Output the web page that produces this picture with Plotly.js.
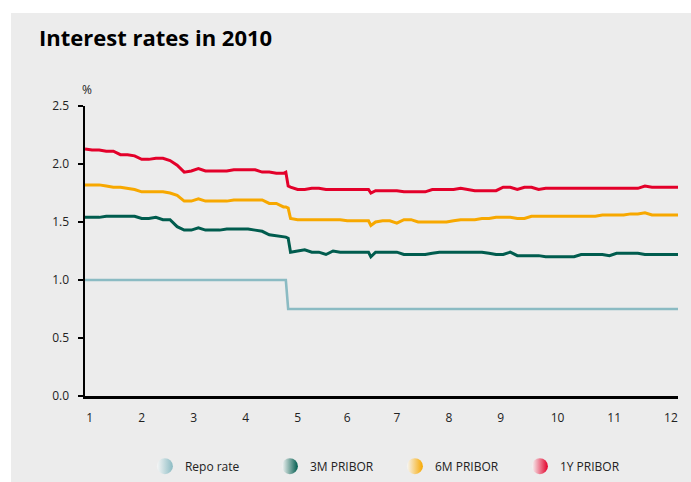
<!DOCTYPE html>
<html>
<head>
<meta charset="utf-8">
<script src="https://cdn.plot.ly/plotly-3.0.1.min.js"></script>
<style>html,body{margin:0;padding:0;background:#fff;}#chart{width:691px;height:482px;}</style>
</head>
<body>
<div id="chart"></div>
<script>
// trading-day index through 2010
var day = [0,3,6,9,12,15,18,21,24,27,30,33,36,39,42,45,48,51,54,57,60,63,66,69,72,75,78,81,84,85,86,87,
  90,93,96,99,102,105,108,111,114,117,120,121,123,126,129,132,135,138,141,144,147,150,153,156,159,162,165,168,
  171,174,177,180,183,186,189,192,195,198,201,204,207,210,213,216,219,222,225,228,231,234,237,240,243,246,249,251];

var repoRate = [1.00,1.00,1.00,1.00,1.00,1.00,1.00,1.00,1.00,1.00,1.00,1.00,1.00,1.00,1.00,1.00,1.00,1.00,1.00,1.00,1.00,1.00,1.00,1.00,1.00,1.00,1.00,1.00,1.00,1.00,0.75,0.75,
  0.75,0.75,0.75,0.75,0.75,0.75,0.75,0.75,0.75,0.75,0.75,0.75,0.75,0.75,0.75,0.75,0.75,0.75,0.75,0.75,0.75,0.75,0.75,0.75,0.75,0.75,0.75,0.75,
  0.75,0.75,0.75,0.75,0.75,0.75,0.75,0.75,0.75,0.75,0.75,0.75,0.75,0.75,0.75,0.75,0.75,0.75,0.75,0.75,0.75,0.75,0.75,0.75,0.75,0.75,0.75,0.75];

var pribor3M = [1.54,1.54,1.54,1.55,1.55,1.55,1.55,1.55,1.53,1.53,1.54,1.52,1.52,1.46,1.43,1.43,1.45,1.43,1.43,1.43,1.44,1.44,1.44,1.44,1.43,1.42,1.39,1.38,1.37,1.37,1.36,1.24,
  1.25,1.26,1.24,1.24,1.22,1.25,1.24,1.24,1.24,1.24,1.24,1.20,1.24,1.24,1.24,1.24,1.22,1.22,1.22,1.22,1.23,1.24,1.24,1.24,1.24,1.24,1.24,1.24,
  1.23,1.22,1.22,1.24,1.21,1.21,1.21,1.21,1.20,1.20,1.20,1.20,1.20,1.22,1.22,1.22,1.22,1.21,1.23,1.23,1.23,1.23,1.22,1.22,1.22,1.22,1.22,1.22];

var pribor6M = [1.82,1.82,1.82,1.81,1.80,1.80,1.79,1.78,1.76,1.76,1.76,1.76,1.75,1.73,1.68,1.68,1.70,1.68,1.68,1.68,1.68,1.69,1.69,1.69,1.69,1.69,1.66,1.66,1.63,1.63,1.62,1.53,
  1.52,1.52,1.52,1.52,1.52,1.52,1.52,1.51,1.51,1.51,1.51,1.47,1.50,1.51,1.51,1.49,1.52,1.52,1.50,1.50,1.50,1.50,1.50,1.51,1.52,1.52,1.52,1.53,
  1.53,1.54,1.54,1.54,1.53,1.53,1.55,1.55,1.55,1.55,1.55,1.55,1.55,1.55,1.55,1.55,1.56,1.56,1.56,1.56,1.57,1.57,1.58,1.56,1.56,1.56,1.56,1.56];

var pribor1Y = [2.13,2.12,2.12,2.11,2.11,2.08,2.08,2.07,2.04,2.04,2.05,2.05,2.03,1.99,1.93,1.94,1.96,1.94,1.94,1.94,1.94,1.95,1.95,1.95,1.95,1.93,1.93,1.92,1.92,1.93,1.81,1.80,
  1.78,1.78,1.79,1.79,1.78,1.78,1.78,1.78,1.78,1.78,1.78,1.75,1.77,1.77,1.77,1.77,1.76,1.76,1.76,1.76,1.78,1.78,1.78,1.78,1.79,1.78,1.77,1.77,
  1.77,1.77,1.80,1.80,1.78,1.80,1.80,1.78,1.79,1.79,1.79,1.79,1.79,1.79,1.79,1.79,1.79,1.79,1.79,1.79,1.79,1.79,1.81,1.80,1.80,1.80,1.80,1.80];

var monthTickDays = [2,24,46,68,90,111,132,154,176,200,224,248];
var monthLabels = ['1','2','3','4','5','6','7','8','9','10','11','12'];

var seriesNames = ['Repo rate','3M PRIBOR','6M PRIBOR','1Y PRIBOR'];
var seriesColors = ['#8bbbc3','#005c4e','#f7a800','#e3002a'];
var seriesValues = [repoRate, pribor3M, pribor6M, pribor1Y];

var traces = [];
for (var i = 0; i < seriesValues.length; i++) {
  traces.push({
    x: day, y: seriesValues[i], type: 'scatter', mode: 'lines',
    line: {color: seriesColors[i], width: i === 0 ? 2.6 : 3, shape: 'linear'},
    showlegend: false, hoverinfo: 'skip'
  });
}
for (var j = 0; j < seriesNames.length; j++) {
  traces.push({
    x: [null], y: [null], type: 'scatter', mode: 'markers', name: seriesNames[j],
    marker: {size: 18, color: '#f6f6f6', gradient: {type: 'horizontal', color: seriesColors[j]}, line: {width: 0}},
    showlegend: true
  });
}

var layout = {
  width: 691, height: 482,
  margin: {l: 85, r: 13, t: 106, b: 86, autoexpand: false},
  paper_bgcolor: '#ececec',
  plot_bgcolor: '#ececec',
  font: {family: 'Open Sans, Noto Sans, sans-serif', size: 12, color: '#222'},
  title: {text: '<b>Interest rates in 2010</b>', x: 0, xref: 'container', xanchor: 'left', y: 1, yref: 'container', yanchor: 'top',
          pad: {t: 31, l: 39}, font: {family: 'Open Sans, sans-serif', size: 22, color: '#000'}},
  xaxis: {
    range: [0, 251], tickmode: 'array', tickvals: monthTickDays, ticktext: monthLabels,
    showgrid: false, zeroline: false, showline: true, linecolor: '#000', linewidth: 2.5,
    ticks: '', ticklabelstandoff: 9, tickfont: {size: 12, color: '#222'}, fixedrange: true
  },
  yaxis: {
    range: [0, 2.5], tickvals: [0, 0.5, 1.0, 1.5, 2.0, 2.5], tickformat: '.1f',
    showgrid: false, zeroline: false, showline: true, linecolor: '#000', linewidth: 2.5,
    ticks: 'outside', ticklen: 5, tickwidth: 2, tickcolor: '#000', ticklabelstandoff: 6,
    tickfont: {size: 12, color: '#222'}, fixedrange: true
  },
  legend: {orientation: 'h', x: 0.101, xanchor: 'left', y: -0.192, yanchor: 'top', entrywidth: 80, entrywidthmode: 'pixels',
           font: {size: 12, color: '#222'}, bgcolor: 'rgba(0,0,0,0)', itemsizing: 'trace'},
  annotations: [{text: '%', xref: 'paper', yref: 'paper', x: 0, y: 1, xanchor: 'left', yanchor: 'bottom', yshift: 6, xshift: -5,
                 showarrow: false, font: {size: 12, color: '#222'}}],
  shapes: [
    {type: 'rect', xref: 'paper', yref: 'paper', x0: -0.2, x1: 1.2, y0: (396 - 13) / 290, y1: 1.5, fillcolor: '#fff', line: {width: 0}, layer: 'below'},
    {type: 'rect', xref: 'paper', yref: 'paper', x0: -0.2, x1: (11 - 85) / 593, y0: -0.5, y1: 1.5, fillcolor: '#fff', line: {width: 0}, layer: 'below'}
  ]
};

Plotly.newPlot('chart', traces, layout, {displayModeBar: false, staticPlot: true});
</script>
</body>
</html>
